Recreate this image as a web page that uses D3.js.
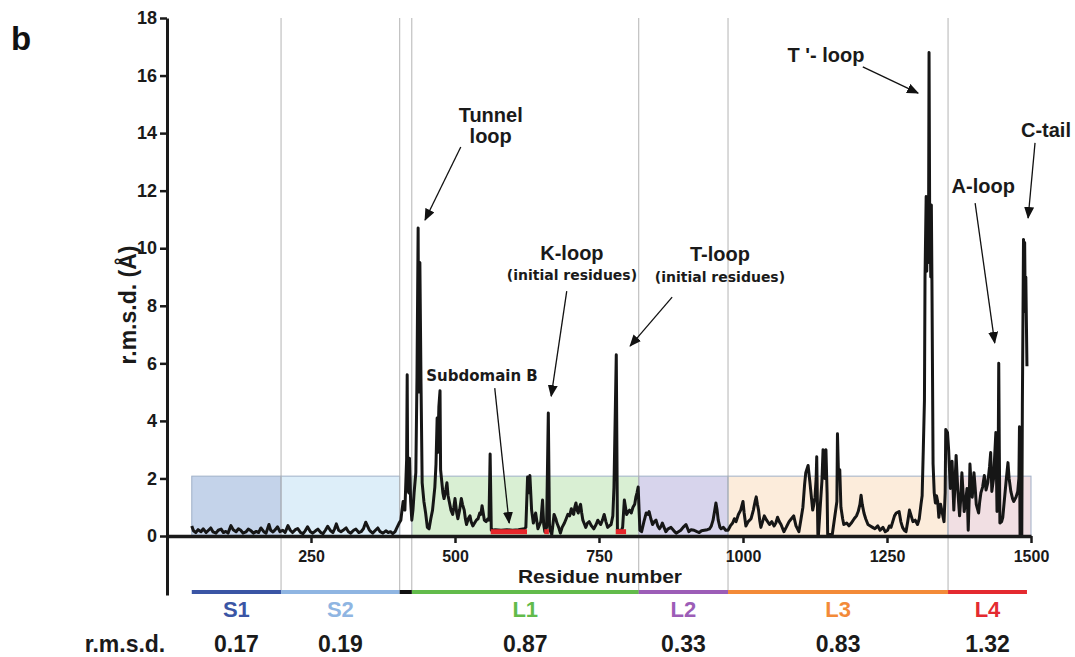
<!DOCTYPE html>
<html>
<head>
<meta charset="utf-8">
<script src="https://cdn.jsdelivr.net/npm/d3@7"></script>
<style>
  body { margin: 0; background: #fff; }
  svg { font-family: "Liberation Sans", Arial, sans-serif; }
  text { font-weight: bold; }
</style>
</head>
<body>
<svg id="chart"></svg>
<script>
// residue number, r.m.s.d. (A)
const rmsdTrace = [
  [43,0.35],[46,0.18],[50,0.12],[54,0.22],[59,0.15],[63,0.25],[68,0.12],[72,0.2],[76,0.28],[80,0.14],
  [85,0.1],[89,0.2],[94,0.24],[98,0.12],[102,0.16],[106,0.1],[111,0.36],[115,0.22],[120,0.15],[124,0.25],
  [128,0.2],[132,0.1],[137,0.14],[141,0.24],[146,0.18],[150,0.1],[155,0.16],[159,0.12],[163,0.28],[168,0.15],
  [172,0.1],[177,0.4],[180,0.2],[184,0.14],[188,0.22],[192,0.32],[196,0.15],[201,0.2],[205,0.12],[210,0.36],
  [214,0.2],[218,0.12],[223,0.22],[227,0.26],[232,0.12],[236,0.08],[240,0.18],[244,0.32],[249,0.15],[253,0.1],
  [258,0.18],[262,0.24],[267,0.12],[271,0.08],[275,0.2],[279,0.34],[284,0.18],[288,0.12],[291,0.25],[294,0.42],
  [298,0.2],[302,0.15],[307,0.22],[311,0.28],[315,0.15],[319,0.1],[324,0.2],[328,0.24],[333,0.12],[337,0.15],
  [341,0.25],[345,0.48],[348,0.35],[351,0.22],[354,0.15],[357,0.1],[362,0.2],[366,0.28],[370,0.15],[375,0.1],
  [380,0.18],[384,0.12],[388,0.15],[392,0.08],[396,0.15],[399,0.28],
  [403,0.45],[406,0.55],[408,0.9],[410,1.2],[413,0.9],[416,2.65],[417,5.6],[418,1.6],[420,1.5],[421,2.7],
  [423,1.2],[425,0.55],[427,0.9],[429,1.5],[432,2.2],[434,5.5],[436,10.7],[437,5.0],[439,9.5],[441,5.3],
  [443,1.85],[446,1.2],[449,0.8],[452,0.3],[455,0.25],[458,0.6],[461,0.9],[463,1.3],[465,1.7],[467,2.5],
  [469,4.1],[470,2.9],[472,4.5],[474,5.05],[475,2.3],[477,1.9],[479,1.5],[481,1.3],[484,1.6],[486,1.85],
  [488,1.4],[490,1.2],[493,0.9],[496,0.75],[498,1.0],[500,1.3],[503,0.8],[505,0.6],[508,0.9],[511,1.3],
  [513,1.1],[516,0.9],[518,0.6],[520,0.4],[523,0.6],[526,0.7],[528,0.5],[531,0.35],[534,0.45],[537,0.55],
  [540,0.6],[543,0.8],[545,0.75],[547,1.05],[549,0.8],[551,0.55],[554,0.5],[557,0.6],[559,0.55],[561,2.85],
  [563,0.2],[570,0.22],[580,0.2],[590,0.22],[600,0.2],[610,0.22],[620,0.25],[623,0.3],[626,2.05],[628,1.5],
  [630,2.1],[633,0.9],[636,0.45],[640,0.8],[644,0.25],[647,0.4],[649,0.5],[652,1.25],[654,0.4],[656,0.15],
  [659,0.3],[662,4.27],[664,0.4],[665,0.2],[668,0.05],[670,0.4],[672,0.75],[675,0.6],[677,0.45],[680,0.3],
  [683,0.1],[686,0.3],[690,0.45],[693,0.6],[696,0.75],[699,0.7],[702,0.95],[704,0.8],[706,0.75],[708,1.0],
  [710,1.15],[712,0.9],[714,0.8],[716,1.0],[718,1.1],[720,0.8],[722,0.55],[725,0.4],[727,0.3],[730,0.45],
  [733,0.5],[737,0.35],[741,0.25],[745,0.4],[748,0.55],[751,0.45],[753,0.4],[756,0.55],[759,0.75],[762,0.5],
  [765,0.3],[768,0.35],[771,0.4],[774,0.7],[776,1.7],[780,6.3],[782,0.2],[785,0.2],[788,0.15],[791,0.3],
  [794,1.25],[796,1.0],[798,0.75],[801,0.85],[803,0.9],[806,0.8],[809,1.0],[812,1.1],[814,1.35],[816,1.5],
  [818,1.7],[821,0.2],[824,0.15],[828,0.5],[832,0.8],[835,0.75],[837,0.85],[840,0.6],[843,0.4],[846,0.5],
  [849,0.55],[852,0.35],[855,0.25],[858,0.35],[860,0.45],[863,0.3],[866,0.15],[870,0.25],[875,0.3],[880,0.18],
  [884,0.1],[888,0.15],[892,0.2],[896,0.3],[901,0.4],[904,0.25],[906,0.15],[910,0.22],[915,0.2],[920,0.15],
  [924,0.12],[928,0.18],[933,0.2],[938,0.22],[942,0.25],[945,0.35],[948,0.55],[951,0.9],[953,1.15],[955,0.9],
  [957,0.55],[960,0.3],[962,0.25],[966,0.3],[970,0.2],[974,0.2],[978,0.35],[982,0.45],[985,0.6],[988,0.5],
  [992,0.75],[996,0.9],[1000,1.2],[1002,0.8],[1005,0.35],[1009,0.5],[1014,0.6],[1018,0.9],[1021,1.2],[1023,1.36],
  [1025,1.1],[1027,0.9],[1029,0.55],[1031,0.3],[1034,0.5],[1037,0.7],[1041,0.55],[1046,0.4],[1050,0.5],[1054,0.35],
  [1057,0.45],[1060,0.65],[1063,0.5],[1066,0.4],[1071,0.15],[1075,0.3],[1080,0.5],[1084,0.6],[1088,0.7],[1092,0.35],
  [1097,0.15],[1100,0.5],[1104,1.0],[1107,1.8],[1109,2.2],[1113,2.45],[1116,1.9],[1119,1.3],[1121,0.9],[1123,1.1],
  [1125,1.35],[1127,2.0],[1128,2.75],[1130,0.05],[1131,0.05],[1135,1.3],[1137,1.9],[1139,3.0],[1142,2.0],[1144,3.0],
  [1146,1.5],[1147,0.05],[1155,0.05],[1163,1.2],[1164,3.55],[1166,2.0],[1168,2.3],[1170,1.0],[1173,0.6],[1175,0.4],
  [1180,0.45],[1184,0.35],[1188,0.45],[1193,0.6],[1197,0.7],[1200,0.85],[1203,1.1],[1205,1.42],[1207,1.1],[1210,0.8],
  [1213,0.6],[1217,0.4],[1221,0.35],[1225,0.3],[1229,0.25],[1234,0.35],[1238,0.2],[1243,0.3],[1247,0.15],[1251,0.2],
  [1254,0.35],[1257,0.3],[1260,0.5],[1263,0.7],[1266,0.8],[1271,0.85],[1274,0.5],[1277,0.3],[1280,0.2],[1283,0.15],
  [1286,0.5],[1289,0.9],[1292,0.7],[1295,0.5],[1299,0.55],[1303,0.4],[1306,0.6],[1309,1.1],[1311,1.4],[1313,3.0],
  [1315,4.7],[1316,9.0],[1318,11.8],[1319,9.2],[1320,11.7],[1322,9.5],[1323,16.8],[1324,11.6],[1326,9.0],[1327,11.5],
  [1328,8.9],[1330,2.5],[1332,1.5],[1334,1.15],[1336,1.4],[1338,1.2],[1340,0.65],[1343,1.1],[1346,0.8],[1349,0.5],
  [1351,1.5],[1352,3.7],[1355,3.6],[1357,3.0],[1360,1.65],[1363,2.6],[1366,0.9],[1368,1.8],[1370,2.8],[1373,1.55],
  [1376,0.7],[1378,1.3],[1380,2.2],[1383,1.2],[1384,0.85],[1387,1.3],[1389,1.65],[1391,0.2],[1393,1.5],[1394,2.5],
  [1396,1.8],[1398,1.35],[1401,2.2],[1403,1.7],[1405,1.1],[1409,0.8],[1411,1.2],[1413,1.5],[1416,1.7],[1419,2.1],
  [1422,1.6],[1425,1.85],[1428,2.4],[1430,2.9],[1432,1.55],[1435,2.0],[1437,2.8],[1439,3.6],[1441,0.85],[1443,2.5],
  [1444,6.0],[1445,3.0],[1446,0.45],[1449,0.5],[1451,0.65],[1454,1.3],[1457,1.95],[1460,2.55],[1462,2.0],[1465,1.55],
  [1468,1.3],[1470,1.2],[1474,1.35],[1477,1.55],[1479,2.0],[1480,3.8],[1481,0],[1484,0],[1485,4.5],[1487,10.3],
  [1488,8.0],[1489,10.2],[1490,7.8],[1491,9.0],[1493,5.9]
]

// domains
const domainNames = ['S1', 'S2', 'L1', 'L2', 'L3', 'L4']
const domainStart = [43, 198, 425, 819, 974, 1356]
const domainEnd = [198, 404, 819, 974, 1356, 1500]
const domainBarEnd = [198, 404, 819, 974, 1356, 1493]
const domainRmsd = ['0.17', '0.19', '0.87', '0.33', '0.83', '1.32']
const domainColors = ['#3a55a5', '#8fb5e2', '#62bb4b', '#9c5db7', '#f38a38', '#e42a30']
const domainFills = ['#c4d3ea', '#ddeef9', '#d9efd3', '#d7d4ec', '#fcecdb', '#f1dfe3']
const linkerRange = [404, 425]
const boundaries = [198, 404, 425, 819, 974, 1356]
const boxTop = 2.08

// subdomain B stretches (red)
const subdomainB = [[562, 625], [655, 663], [779, 797]]

const xTicks = [250, 500, 750, 1000, 1250, 1500]
const yTicks = [0, 2, 4, 6, 8, 10, 12, 14, 16, 18]

// annotations: text lines at [residue, rmsd], arrow from -> to
const labels = [
  { lines: ['Tunnel', 'loop'], at: [562, 14.38], gap: 21 },
  { lines: ['K-loop'], at: [703, 9.59] },
  { lines: ['T-loop'], at: [960, 9.56] },
  { lines: ["T '- loop"], at: [1144, 16.47] },
  { lines: ['A-loop'], at: [1417, 11.92] },
  { lines: ['C-tail'], at: [1526, 13.86] }
]
const smallLabels = [
  { text: '(initial residues)', at: [703, 8.9], size: 14 },
  { text: '(initial residues)', at: [960, 8.83], size: 14 },
  { text: 'Subdomain B', at: [547, 5.39], size: 15 }
]
const arrows = [
  [[510, 13.52], [448, 10.98]],
  [[694, 8.51], [667, 4.86]],
  [[877, 8.3], [804, 6.6]],
  [[569, 5.14], [594, 0.45]],
  [[1208, 16.3], [1304, 15.39]],
  [[1403, 11.57], [1437, 6.71]],
  [[1507, 13.66], [1495, 11.05]]
]

const width = 1075
const height = 657
const stripY = 592

const svg = d3.select('#chart')
  .attr('width', width)
  .attr('height', height)

const x = d3.scaleLinear().domain([0, 1500]).range([167, 1031])
const y = d3.scaleLinear().domain([-2.05, 18]).range([595, 18])

// coloured domain boxes
domainNames.forEach((name, i) => {
  svg.append('rect')
    .attr('x', x(domainStart[i]))
    .attr('y', y(boxTop))
    .attr('width', x(domainEnd[i]) - x(domainStart[i]))
    .attr('height', y(0) - y(boxTop))
    .attr('fill', domainFills[i])
    .attr('stroke', '#9fb0c8')
    .attr('stroke-width', 1)
})

// grey boundary lines
boundaries.forEach(b => {
  svg.append('line')
    .attr('x1', x(b)).attr('x2', x(b))
    .attr('y1', y(18)).attr('y2', stripY + 2)
    .attr('stroke', '#b4b4b4')
    .attr('stroke-width', 1)
})

// trace
const line = d3.line()
  .x(d => x(d[0]))
  .y(d => y(d[1]))

svg.append('path')
  .datum(rmsdTrace)
  .attr('d', line)
  .attr('fill', 'none')
  .attr('stroke', '#161616')
  .attr('stroke-width', 3)
  .attr('stroke-linejoin', 'round')

// subdomain B
subdomainB.forEach(r => {
  svg.append('line')
    .attr('x1', x(r[0])).attr('x2', x(r[1]))
    .attr('y1', y(0.15)).attr('y2', y(0.15))
    .attr('stroke', '#e8262b')
    .attr('stroke-width', 5)
})

// axes
const yAxis = svg.append('g')
  .attr('transform', `translate(${x(0)},0)`)
  .call(d3.axisLeft(y).tickValues(yTicks).tickSize(7).tickSizeOuter(0).tickPadding(3))
yAxis.select('.domain').attr('stroke', '#1a1a1a').attr('stroke-width', 3)
yAxis.selectAll('.tick line').attr('stroke', '#1a1a1a').attr('stroke-width', 2.5)
yAxis.selectAll('.tick text').attr('font-size', 18).attr('fill', '#1a1a1a')
  .style('font-family', '"Liberation Sans", Arial, sans-serif')

const xAxis = svg.append('g')
  .attr('transform', `translate(0,${y(0)})`)
  .call(d3.axisBottom(x).tickValues(xTicks).tickFormat(d3.format('d'))
    .tickSize(7).tickSizeOuter(0).tickPadding(8))
xAxis.select('.domain').attr('stroke', '#1a1a1a').attr('stroke-width', 3.5)
xAxis.selectAll('.tick line').attr('stroke', '#1a1a1a').attr('stroke-width', 2.5)
xAxis.selectAll('.tick text').attr('font-size', 16).attr('fill', '#1a1a1a')
  .style('font-family', '"Liberation Sans", Arial, sans-serif')

svg.append('text')
  .attr('x', 600).attr('y', 583)
  .attr('text-anchor', 'middle')
  .attr('font-size', 19)
  .attr('textLength', 164)
  .attr('lengthAdjust', 'spacingAndGlyphs')
  .attr('fill', '#1a1a1a')
  .text('Residue number')

svg.append('text')
  .attr('transform', 'translate(136,305) rotate(-90)')
  .attr('text-anchor', 'middle')
  .attr('font-size', 23)
  .attr('fill', '#1a1a1a')
  .text('r.m.s.d. (Å)')

svg.append('text')
  .attr('x', 11).attr('y', 50)
  .attr('font-size', 33)
  .attr('fill', '#111')
  .text('b')

// domain strip below the axis
domainNames.forEach((name, i) => {
  const cx = (x(domainStart[i]) + x(domainBarEnd[i])) / 2
  svg.append('line')
    .attr('x1', x(domainStart[i])).attr('x2', x(domainBarEnd[i]))
    .attr('y1', stripY).attr('y2', stripY)
    .attr('stroke', domainColors[i])
    .attr('stroke-width', 4)
  svg.append('text')
    .attr('x', cx).attr('y', 617)
    .attr('text-anchor', 'middle')
    .attr('font-size', 22)
    .attr('fill', domainColors[i])
    .text(name)
  svg.append('text')
    .attr('x', cx).attr('y', 652)
    .attr('text-anchor', 'middle')
    .attr('font-size', 23)
    .attr('fill', '#1a1a1a')
    .text(domainRmsd[i])
})
svg.append('line')
  .attr('x1', x(linkerRange[0])).attr('x2', x(linkerRange[1]))
  .attr('y1', stripY).attr('y2', stripY)
  .attr('stroke', '#111')
  .attr('stroke-width', 4)

svg.append('text')
  .attr('x', 125).attr('y', 652)
  .attr('text-anchor', 'middle')
  .attr('font-size', 23)
  .attr('fill', '#1a1a1a')
  .text('r.m.s.d.')

// annotations
svg.append('defs').append('marker')
  .attr('id', 'head')
  .attr('viewBox', '0 0 12 10')
  .attr('refX', 11).attr('refY', 5)
  .attr('markerWidth', 12).attr('markerHeight', 10)
  .attr('markerUnits', 'userSpaceOnUse')
  .attr('orient', 'auto')
  .append('path')
  .attr('d', 'M0,0 L12,5 L0,10 Z')
  .attr('fill', '#111')

arrows.forEach(a => {
  svg.append('line')
    .attr('x1', x(a[0][0])).attr('y1', y(a[0][1]))
    .attr('x2', x(a[1][0])).attr('y2', y(a[1][1]))
    .attr('stroke', '#111')
    .attr('stroke-width', 1.3)
    .attr('marker-end', 'url(#head)')
})

labels.forEach(l => {
  l.lines.forEach((t, k) => {
    svg.append('text')
      .attr('x', x(l.at[0]))
      .attr('y', y(l.at[1]) + k * (l.gap || 0))
      .attr('text-anchor', 'middle')
      .attr('font-size', 20)
      .attr('fill', '#1a1a1a')
      .text(t)
  })
})

smallLabels.forEach(l => {
  svg.append('text')
    .attr('x', x(l.at[0]))
    .attr('y', y(l.at[1]))
    .attr('text-anchor', 'middle')
    .attr('font-size', l.size)
    .style('font-family', '"DejaVu Sans", Verdana, sans-serif')
    .attr('fill', '#1a1a1a')
    .text(l.text)
})
</script>
</body>
</html>
